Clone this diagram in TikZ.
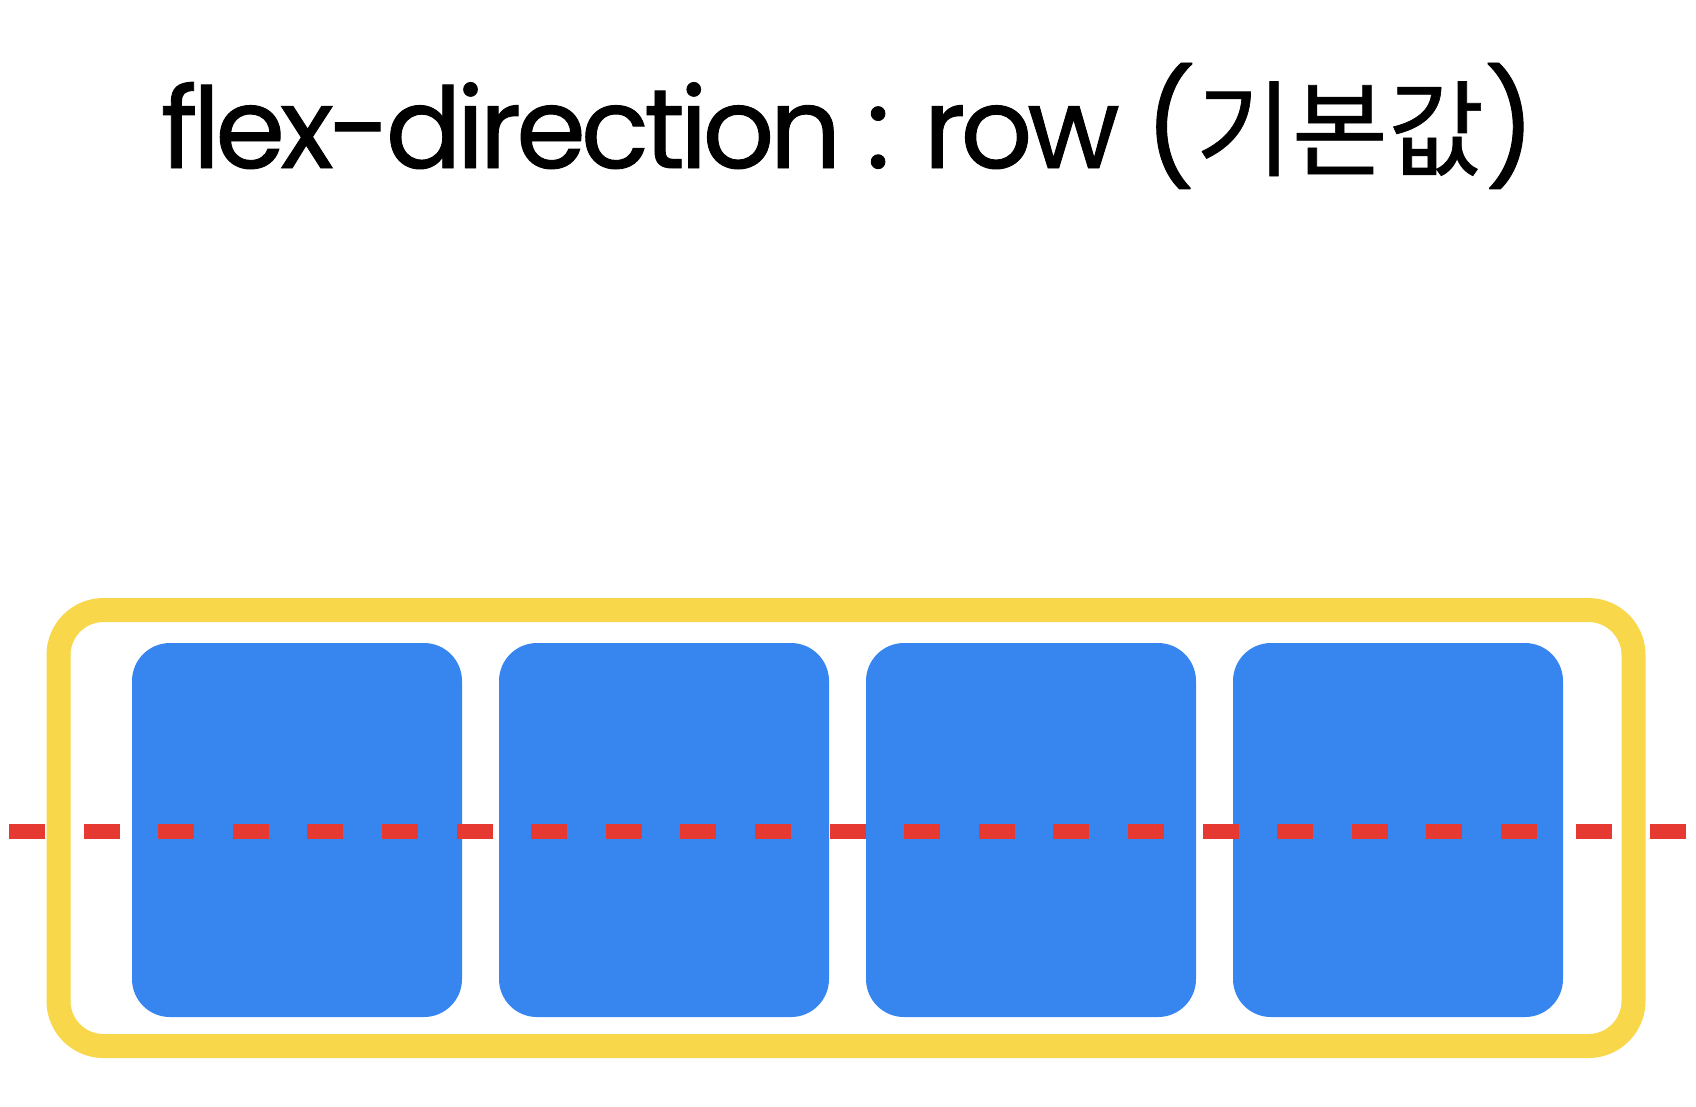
\documentclass[tikz,border=0pt]{standalone}
\usepackage{fontspec}
\usepackage{xcolor}
\usetikzlibrary{positioning}
\setmainfont{Poppins}[LetterSpace=-4.5, FakeBold=0.8]
\newfontfamily\krfont{Noto Sans CJK KR}[FakeBold=0.6, Scale=0.93]
\definecolor{itemblue}{RGB}{55,134,240}
\definecolor{wrapyellow}{RGB}{248,215,75}
\definecolor{axisred}{RGB}{230,57,50}

\begin{document}
\begin{tikzpicture}[x=0.1mm, y=-0.1mm,
    wrap/.style={draw=wrapyellow, line width=2.4mm, rounded corners=4.5mm,
        minimum width=157.5mm, minimum height=43.6mm, inner sep=0pt},
    item/.style={fill=itemblue, rounded corners=3.8mm, outer sep=0pt,
        minimum width=33mm, minimum height=37.4mm, inner sep=0pt},
    axis/.style={draw=axisred, line width=1.5mm, dash pattern=on 3.6mm off 3.86mm}]
    \useasboundingbox[fill=white] (0,0) rectangle (1696,1106);
    \node[anchor=base, font=\fontsize{32}{38}\selectfont] (title) at (848,168)
        {flex-direction : row ({\krfont 기본값})};
    % container and items
    \node[wrap] (container) at (846,828) {};
    \node[item] (box1) at (297,830) {};
    \node[item, right=3.7mm of box1] (box2) {};
    \node[item, right=3.7mm of box2] (box3) {};
    \node[item, right=3.7mm of box3] (box4) {};
    % main axis
    \coordinate (axisL) at (9,831);
    \coordinate (axisR) at (1687,831);
    \draw[axis] (axisL) -- (axisR);
\end{tikzpicture}
\end{document}
